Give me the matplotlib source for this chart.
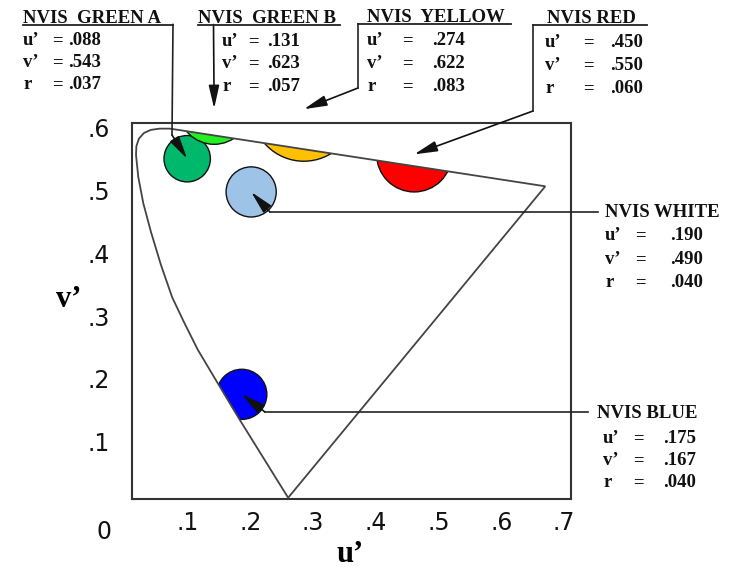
import numpy as np
import matplotlib.pyplot as plt
from matplotlib.patches import Circle, Polygon
from matplotlib.lines import Line2D
import matplotlib.transforms as mtransforms

W, H = 744, 569

# NVIS colour specifications (u', v', radius)
names = ["NVIS  GREEN A", "NVIS  GREEN B", "NVIS  YELLOW", "NVIS RED", "NVIS WHITE", "NVIS BLUE"]
u_c = [0.088, 0.131, 0.274, 0.450, 0.190, 0.175]
v_c = [0.543, 0.623, 0.622, 0.550, 0.490, 0.167]
r_c = [0.037, 0.057, 0.083, 0.060, 0.040, 0.040]
fills = ["#00b86c", "#22f022", "#ffc000", "#ff0000", "#9dc3e6", "#0000ff"]

# gamut outline as drawn in the sketch: violet corner, up the left edge, over the top, red corner
locus_u = [0.249, 0.172, 0.136, 0.105, 0.083, 0.064, 0.046, 0.030, 0.018, 0.010,
           0.0064, 0.0070, 0.0110, 0.0190, 0.0300, 0.0440, 0.0606, 0.659]
locus_v = [0.002, 0.126, 0.186, 0.238, 0.282, 0.322, 0.374, 0.427, 0.472, 0.514,
           0.549, 0.563, 0.575, 0.584, 0.589, 0.591, 0.591, 0.499]

xticks = [0.1, 0.2, 0.3, 0.4, 0.5, 0.6, 0.7]
xtick_labels = [".1", ".2", ".3", ".4", ".5", ".6", ".7"]
yticks = [0.1, 0.2, 0.3, 0.4, 0.5, 0.6]
ytick_labels = [".1", ".2", ".3", ".4", ".5", ".6"]

# text block layout in pixels (header x, header baseline, columns, row baselines, underline, leader)
layout = [
    dict(head=(23, 22.7), cols=(23, 52, 68), rows=(45, 67, 89), ul=(23, 173, 24.5),
         path=[(173, 24.5), (172, 135)]),
    dict(head=(198, 22.7), cols=(222, 248, 267), rows=(46.5, 68.5, 91), ul=(198, 340, 24.5),
         path=[(213.5, 24.5)]),
    dict(head=(367, 22), cols=(367, 402, 432), rows=(45, 68, 91), ul=(358, 511, 23.5),
         path=[(358, 23.5), (358, 88)]),
    dict(head=(547, 23), cols=(545, 583, 610), rows=(47, 70, 93), ul=(533, 647, 24.5),
         path=[(533, 24.5), (533, 111)]),
    dict(head=(605, 217), cols=(605, 635, 670), rows=(240, 264, 287), ul=None,
         path=[(598, 212), (270, 212)]),
    dict(head=(597, 418), cols=(603, 633, 663), rows=(443, 465, 487), ul=None,
         path=[(588, 412), (265, 412)]),
]


def px(x, y):
    return x / W, 1 - y / H


fig = plt.figure(figsize=(W / 100, H / 100), dpi=100)
ax = fig.add_axes([132 / W, 1 - 499 / H, (571 - 132) / W, (499 - 123) / H])
ax.set_xlim(0, 0.7)
ax.set_ylim(0, 0.6)
for s in ax.spines.values():
    s.set_color("#333333")
    s.set_linewidth(1.5)

ax.set_xticks(xticks)
ax.set_xticklabels(xtick_labels)
ax.set_yticks(yticks)
ax.set_yticklabels(ytick_labels)
ax.tick_params(length=0, labelsize=17, colors="#111111")
ax.tick_params(axis="x", pad=9)
ax.tick_params(axis="y", pad=16)
dx = mtransforms.ScaledTranslation(-0.07, 0, fig.dpi_scale_trans)
dy = mtransforms.ScaledTranslation(0, -0.05, fig.dpi_scale_trans)
for lab in ax.get_xticklabels():
    lab.set_transform(lab.get_transform() + dx)
for lab in ax.get_yticklabels():
    lab.set_transform(lab.get_transform() + dy)

serif = "Liberation Serif"
fig.text(*px(104, 532), "0", fontsize=17, ha="center", va="center", color="#111111")
fig.text(*px(69, 307), "v\u2019", fontsize=22, fontweight="bold", family=serif,
         ha="center", va="baseline")
fig.text(*px(350, 569), "u\u2019", fontsize=22, fontweight="bold", family=serif,
         ha="center", va="bottom")

# gamut outline and colour circles clipped to it
pts = np.column_stack([locus_u, locus_v])
gamut = Polygon(pts, closed=True, fill=False, edgecolor="#444444", lw=1.3, zorder=3)
ax.add_patch(gamut)
for u, v, r, c in zip(u_c, v_c, r_c, fills):
    circ = Circle((u, v), r, facecolor=c, edgecolor="#111111", lw=1.0, zorder=2)
    ax.add_patch(circ)
    circ.set_clip_path(gamut)

# labels and leader lines
for name, u, v, r, lay in zip(names, u_c, v_c, r_c, layout):
    tkw = dict(fontsize=13.5, fontweight="bold", family=serif, color="#111111", va="baseline")
    fig.text(*px(*lay["head"]), name, **tkw)
    for row, (lbl, val) in zip(lay["rows"], [("u\u2019", u), ("v\u2019", v), ("r", r)]):
        fig.text(*px(lay["cols"][0], row), lbl, **tkw)
        fig.text(*px(lay["cols"][1], row), "=", **tkw)
        fig.text(*px(lay["cols"][2], row), f"{val:.3f}".lstrip("0"), **tkw)
    if lay["ul"]:
        x0, x1, yy = lay["ul"]
        fig.add_artist(Line2D([x0 / W, x1 / W], [1 - yy / H] * 2, color="#222222", lw=1.3))
    path = lay["path"]
    if len(path) > 1:
        xs, ys = zip(*[px(*p) for p in path])
        fig.add_artist(Line2D(xs, ys, color="#222222", lw=1.2))
    ax.annotate("", xy=(u, v), xycoords="data", xytext=px(*path[-1]),
                textcoords="figure fraction", annotation_clip=False,
                arrowprops=dict(arrowstyle="-|>,head_length=0.7,head_width=0.16",
                                mutation_scale=20, color="#111111", lw=1.2,
                                shrinkA=0, shrinkB=0), zorder=5)

fig.savefig("out.png", dpi=100)
